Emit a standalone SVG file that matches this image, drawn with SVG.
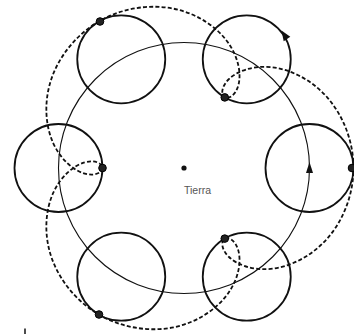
<svg xmlns="http://www.w3.org/2000/svg" width="354" height="334" viewBox="0 0 354 334">
<style>
.epi{fill:none;stroke:#111;stroke-width:1.8}
.def{fill:none;stroke:#111;stroke-width:1.1}
.path{fill:none;stroke:#111;stroke-width:1.8;stroke-dasharray:4 2.2}
.planet{fill:#222;stroke:#000;stroke-width:1}
.lbl{font-family:"Liberation Sans",Arial,sans-serif;font-size:10.5px;fill:#555}
</style>
<rect width="354" height="334" fill="#fff"/>
<g id="deferent">
<circle class="def" cx="184" cy="168" r="125.5"/>
<polygon points="309.5,162 306,173 313,173" fill="#111"/>
</g>
<g id="epicycles">
<circle class="epi" cx="309.5" cy="168" r="44"/>
<circle class="epi" cx="246.75" cy="59.3" r="44"/>
<circle class="epi" cx="121.25" cy="59.3" r="44"/>
<circle class="epi" cx="58.5" cy="168" r="44"/>
<circle class="epi" cx="121.25" cy="276.7" r="44"/>
<circle class="epi" cx="246.75" cy="276.7" r="44"/>
<polygon points="281.5,30.6 290.3,36.8 283.7,41.2" fill="#111"/>
</g>
<g id="connectors">
<path class="path" d="M353.5,168 C353.5,141.69 343.36,115.67 327.22,97.42 C311.09,79.16 289.47,68.95 270.69,67.15 C251.91,65.34 236.48,71.65 228.74,79.26 C221,86.88 220.93,95.21 224.75,97.42 C228.57,99.62 235.76,95.4 238.48,84.89 C241.2,74.37 238.95,57.86 228,42.5 C217.05,27.14 197.4,13.52 173.52,8.68 C149.64,3.83 122.04,8.05 99.25,21.21 C76.46,34.36 59,56.16 51.26,79.26 C43.52,102.36 45.49,126.19 53.31,143.36 C61.14,160.52 74.31,170.73 84.78,173.63 C95.25,176.52 102.5,172.41 102.5,168 C102.5,163.59 95.25,159.48 84.78,162.38 C74.31,165.27 61.14,175.48 53.31,192.65 C45.49,209.81 43.52,233.64 51.26,256.74 C59,279.84 76.46,301.64 99.25,314.8 C122.04,327.95 149.64,332.17 173.52,327.33 C197.4,322.48 217.05,308.86 228,293.5 C238.95,278.14 241.2,261.63 238.48,251.12 C235.76,240.6 228.57,236.38 224.75,238.59 C220.93,240.79 221,249.13 228.74,256.74 C236.48,264.36 251.91,270.66 270.69,268.86 C289.47,267.05 311.09,256.84 327.22,238.59 C343.36,220.33 353.5,194.31 353.5,168 Z"/>
</g>
<g id="planets">
<circle class="planet" cx="352" cy="168" r="3.8"/>
<circle class="planet" cx="224.75" cy="97.4" r="3.8"/>
<circle class="planet" cx="100" cy="21.5" r="3.8"/>
<circle class="planet" cx="102.5" cy="168" r="3.8"/>
<circle class="planet" cx="99" cy="314.5" r="3.8"/>
<circle class="planet" cx="224.75" cy="238.6" r="3.8"/>
</g>
<g id="earth">
<circle cx="184" cy="168" r="2.6" fill="#111"/>
<text class="lbl" x="184" y="194">Tierra</text>
</g>
<line x1="25" y1="328.5" x2="25" y2="334" stroke="#111" stroke-width="1.5"/>
</svg>
